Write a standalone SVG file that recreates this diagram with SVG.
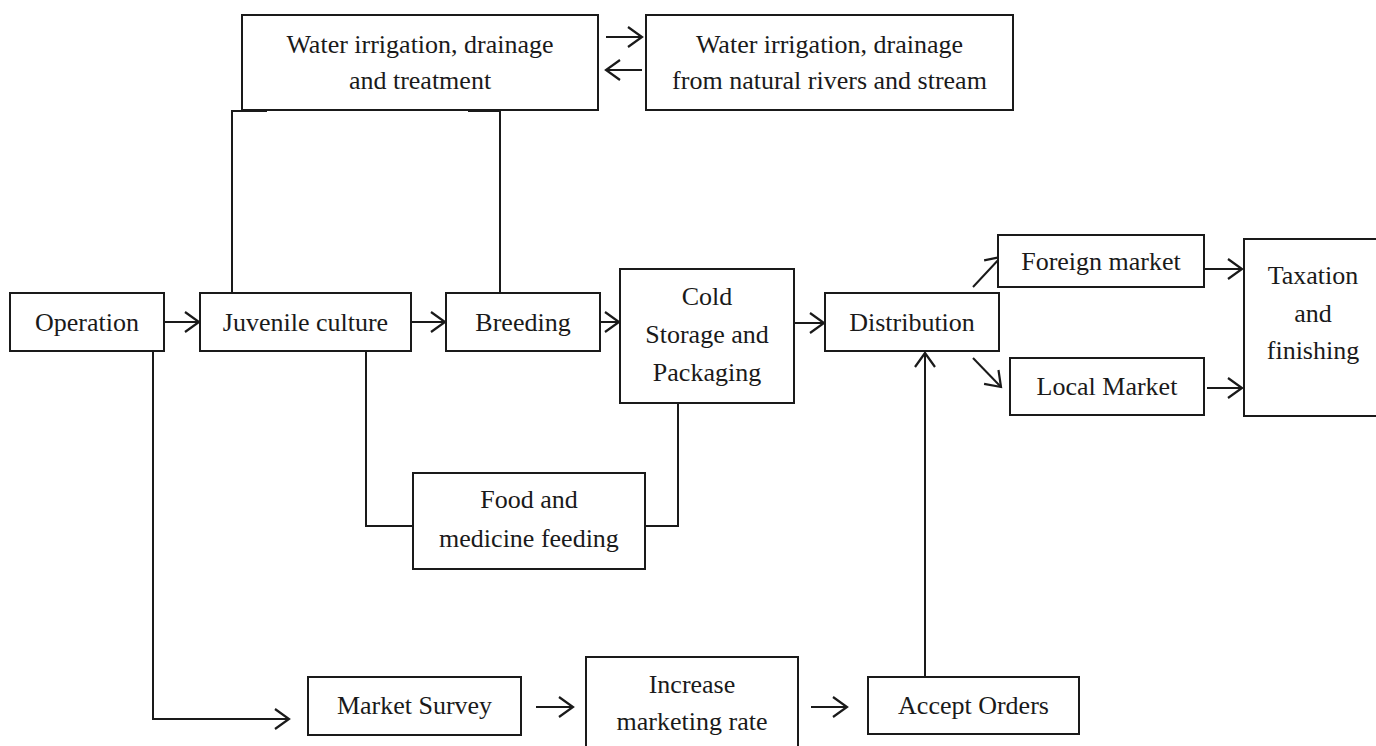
<svg xmlns="http://www.w3.org/2000/svg" width="1376" height="746" viewBox="0 0 1376 746">
<style>
.box{fill:#fff;stroke:#1a1a1a;stroke-width:2}
.t{font-family:"Liberation Serif","Times New Roman",serif;font-size:26px;fill:#1a1a1a;text-anchor:middle}
.c{fill:none;stroke:#1a1a1a;stroke-width:2}
</style>
<defs>
<marker id="ah" markerUnits="userSpaceOnUse" markerWidth="20" markerHeight="24" viewBox="-16 -12 20 24" refX="0" refY="0" orient="auto">
<path d="M-14,-10 L0,0 L-14,10" fill="none" stroke="#1a1a1a" stroke-width="2.2"/>
</marker>
</defs>
<rect width="1376" height="746" fill="#fff"/>
<g id="connectors">
<path class="c" d="M232,293 V111 H267"/>
<path class="c" d="M533,293 H500 V111 H468"/>
<path class="c" d="M318,351 H366 V526 H413"/>
<path class="c" d="M711,403 H678 V526 H645"/>
<path class="c" d="M128,351 H153 V719 H289" marker-end="url(#ah)"/>
<path class="c" d="M164,322 H199" marker-end="url(#ah)"/>
<path class="c" d="M411,322 H445" marker-end="url(#ah)"/>
<path class="c" d="M600,322 H619" marker-end="url(#ah)"/>
<path class="c" d="M794,323 H824" marker-end="url(#ah)"/>
<path class="c" d="M973,287 L1001,257" marker-end="url(#ah)"/>
<path class="c" d="M973,358 L1001,387" marker-end="url(#ah)"/>
<path class="c" d="M1205,269 H1242" marker-end="url(#ah)"/>
<path class="c" d="M1207,388 H1242" marker-end="url(#ah)"/>
<path class="c" d="M925,677 V353" marker-end="url(#ah)"/>
<path class="c" d="M536,707 H573" marker-end="url(#ah)"/>
<path class="c" d="M811,707 H847" marker-end="url(#ah)"/>
<path class="c" d="M606,37 H642" marker-end="url(#ah)"/>
<path class="c" d="M642,70 H606" marker-end="url(#ah)"/>
</g>
<g id="water-treatment"><rect class="box" x="242" y="15" width="356" height="95"/><text class="t" x="420" y="53">Water irrigation, drainage</text><text class="t" x="420" y="89">and treatment</text></g>
<g id="water-natural"><rect class="box" x="646" y="15" width="367" height="95"/><text class="t" x="829.5" y="53">Water irrigation, drainage</text><text class="t" x="829.5" y="89">from natural rivers and stream</text></g>
<g id="operation"><rect class="box" x="10" y="293" width="154" height="58"/><text class="t" x="87" y="331">Operation</text></g>
<g id="juvenile"><rect class="box" x="200" y="293" width="211" height="58"/><text class="t" x="305.5" y="331">Juvenile culture</text></g>
<g id="breeding"><rect class="box" x="446" y="293" width="154" height="58"/><text class="t" x="523" y="331">Breeding</text></g>
<g id="cold-storage"><rect class="box" x="620" y="269" width="174" height="134"/><text class="t" x="707" y="305">Cold</text><text class="t" x="707" y="343">Storage and</text><text class="t" x="707" y="381">Packaging</text></g>
<g id="distribution"><rect class="box" x="825" y="293" width="174" height="58"/><text class="t" x="912" y="331">Distribution</text></g>
<g id="foreign"><rect class="box" x="998" y="235" width="206" height="52"/><text class="t" x="1101" y="270">Foreign market</text></g>
<g id="local"><rect class="box" x="1010" y="358" width="194" height="57"/><text class="t" x="1107" y="395">Local Market</text></g>
<g id="taxation"><rect class="box" x="1244" y="239" width="140" height="177"/><text class="t" x="1313" y="284">Taxation</text><text class="t" x="1313" y="322">and</text><text class="t" x="1313" y="359">finishing</text></g>
<g id="food"><rect class="box" x="413" y="473" width="232" height="96"/><text class="t" x="529" y="508">Food and</text><text class="t" x="529" y="547">medicine feeding</text></g>
<g id="market-survey"><rect class="box" x="308" y="677" width="213" height="58"/><text class="t" x="414.5" y="714">Market Survey</text></g>
<g id="increase"><rect class="box" x="586" y="657" width="212" height="100"/><text class="t" x="692" y="693">Increase</text><text class="t" x="692" y="730">marketing rate</text></g>
<g id="accept"><rect class="box" x="868" y="677" width="211" height="57"/><text class="t" x="973.5" y="714">Accept Orders</text></g>
</svg>
